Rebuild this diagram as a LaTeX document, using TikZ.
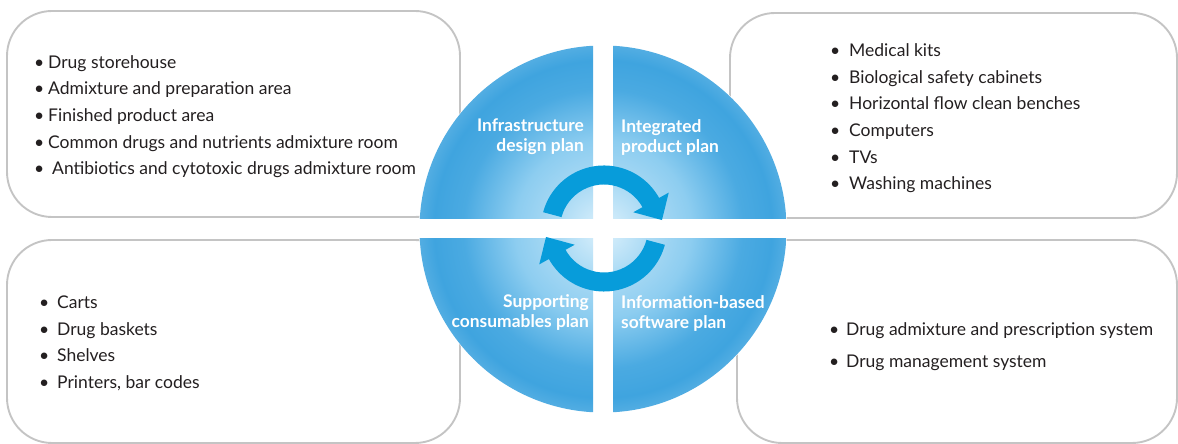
\documentclass[tikz,border=0pt]{standalone}
\usepackage{fontspec}
\setmainfont{Lato}
\usetikzlibrary{calc}
\definecolor{boxgray}{HTML}{C4C4C4}
\definecolor{txtc}{HTML}{231F20}
\definecolor{ringc}{HTML}{079CDA}
\definecolor{ballin}{HTML}{DDF1FC}
\definecolor{ballmid}{HTML}{8DCDF0}
\definecolor{ballout}{HTML}{3FA4DF}
\pgfdeclareradialshading{ballshade}{\pgfpoint{0bp}{0bp}}{%
  color(0bp)=(ballin); color(6bp)=(ballmid!60!ballin); color(12bp)=(ballmid); color(19bp)=(ballout!85!ballmid); color(23bp)=(ballout); color(25bp)=(ballout!90!white); color(50bp)=(ballout!90!white)}
\tikzset{
  listbox/.style={draw=boxgray,line width=1.9pt,rounded corners=45pt},
  bodytxt/.style={inner sep=0pt,anchor=base west,text=txtc,font=\fontsize{17.5}{20}\selectfont},
  plantxt/.style={inner sep=0pt,text=white,font=\bfseries\fontsize{17.4}{20}\selectfont},
}
\newcommand\bul[1]{\makebox[#1][l]{•}}
\begin{document}
\begin{tikzpicture}[x=1pt,y=1pt]
\useasboundingbox (0,0) rectangle (1178,444);
% boxes
\draw[listbox] (7,227) rectangle (460,433);
\draw[listbox] (730,226) rectangle (1177,431);
\draw[listbox] (7,1) rectangle (460,204);
\draw[listbox] (737,1) rectangle (1177,204);
% ball
\coordinate (c) at (603,215);
\fill[white] (c) circle[radius=184];
\begin{scope}
  \clip (0,225) rectangle (593,444);
  \shade[shading=ballshade] (c) circle[radius=183.5];
\end{scope}
\begin{scope}
  \clip (613,225) rectangle (1178,444);
  \shade[shading=ballshade] (c) circle[radius=183.5];
\end{scope}
\begin{scope}
  \clip (0,0) rectangle (593,205);
  \shade[shading=ballshade] (c) circle[radius=183.5];
\end{scope}
\begin{scope}
  \clip (613,0) rectangle (1178,205);
  \shade[shading=ballshade] (c) circle[radius=183.5];
\end{scope}
% cycle arrows
\coordinate (rc) at (604,215.5);
\begin{scope}[shift={(rc)}]
  \fill[ringc] (165:63) arc[start angle=165,end angle=29,radius=63] -- (29:74) -- (8.3:58.6) -- (29:33.5) -- (29:44) arc[start angle=29,end angle=165,radius=44] -- cycle;
  \fill[ringc,rotate=180] (165:63) arc[start angle=165,end angle=29,radius=63] -- (29:74) -- (8.3:58.6) -- (29:33.5) -- (29:44) arc[start angle=29,end angle=165,radius=44] -- cycle;
\end{scope}
% plan labels
\node[plantxt,anchor=base east] (p1a) at (584,312) {Infrastructure};
\node[plantxt,anchor=base east] (p1b) at (584,292) {design plan};
\node[plantxt,anchor=base west] (p2a) at (621,311) {Integrated};
\node[plantxt,anchor=base west] (p2b) at (621,291) {product plan};
\node[plantxt,anchor=base east] (p3a) at (589,136) {Supporting};
\node[plantxt,anchor=base east] (p3b) at (589,116) {consumables plan};
\node[plantxt,anchor=base west] (p4a) at (621,135) {Information-based};
\node[plantxt,anchor=base west] (p4b) at (621,115) {software plan};
% top-left list
\node[bodytxt] (a1) at (34,375.7) {\bul{14pt}Drug storehouse};
\node[bodytxt] (a2) at (34,349) {\bul{14pt}Admixture and preparation area};
\node[bodytxt] (a3) at (34,322.3) {\bul{14pt}Finished product area};
\node[bodytxt] (a4) at (34,295.7) {\bul{14pt}Common drugs and nutrients admixture room};
\node[bodytxt] (a5) at (34,269) {\bul{18pt}Antibiotics and cytotoxic drugs admixture room};
% top-right list
\node[bodytxt] (b1) at (830,387.3) {\bul{19pt}Medical kits};
\node[bodytxt] (b2) at (830,360.7) {\bul{19pt}Biological safety cabinets};
\node[bodytxt] (b3) at (830,334) {\bul{19pt}Horizontal flow clean benches};
\node[bodytxt] (b4) at (830,307.4) {\bul{19pt}Computers};
\node[bodytxt] (b5) at (830,280.8) {\bul{19pt}TVs};
\node[bodytxt] (b6) at (830,254.2) {\bul{19pt}Washing machines};
% bottom-left list
\node[bodytxt] (c1) at (39,135.7) {\bul{18pt}Carts};
\node[bodytxt] (c2) at (39,108) {\bul{18pt}Drug baskets};
\node[bodytxt] (c3) at (39,82.3) {\bul{18pt}Shelves};
\node[bodytxt] (c4) at (39,55.7) {\bul{18pt}Printers, bar codes};
% bottom-right list
\node[bodytxt] (d1) at (829,108) {\bul{17pt}Drug admixture and prescription system};
\node[bodytxt] (d2) at (829,76.7) {\bul{17pt}Drug management system};
\end{tikzpicture}
\end{document}
